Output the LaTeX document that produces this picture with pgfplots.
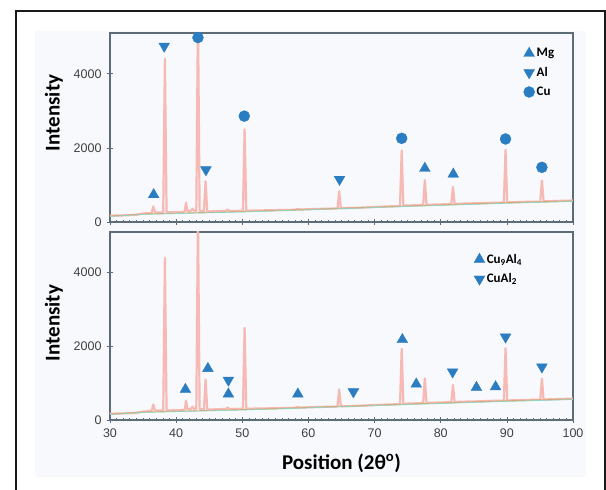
\documentclass[border=0pt]{standalone}
\usepackage{fontspec}
\setmainfont{Carlito}
\newfontfamily\tickfont{Liberation Sans}
\usepackage{pgfplots}
\usepackage{pgfplotstable}
\pgfplotsset{compat=1.18}

\definecolor{peakpink}{HTML}{F6B9B3}
\definecolor{baseorange}{HTML}{E6A066}
\definecolor{baseteal}{HTML}{86D8C6}
\definecolor{markblue}{HTML}{2B7DC1}
\definecolor{axisgray}{HTML}{5E6C78}
\definecolor{tickblue}{HTML}{4D6C8E}
\definecolor{panelbg}{HTML}{F8F9FC}

% diffraction pattern (2theta, counts)
\pgfplotstableread{
x y
30 170
31 175
32 178
33 185
34 195
35 230
36 240
36.3 250
36.55 420
36.8 260
37.5 255
38.05 260
38.3 4400
38.55 270
39 260
40 265
41 270
41.3 290
41.5 520
41.7 290
42.2 300
42.5 360
42.7 300
43.05 300
43.3 5600
43.55 300
44.2 290
44.45 1100
44.7 290
45 285
46 290
47.5 300
47.8 340
48 300
49 300
50.1 305
50.35 2500
50.6 305
52 310
55 320
58 330
58.4 355
58.7 335
60 345
62 355
64.4 365
64.65 830
64.9 370
66 375
67 380
70 405
72 420
73.85 430
74.1 1930
74.35 440
75 445
77.35 460
77.6 1130
77.85 465
80 475
81.6 485
81.85 950
82.1 490
84 500
85.3 505
86 510
88 520
89.55 525
89.8 1950
90.05 530
92 540
93 545
95.05 550
95.3 1120
95.55 555
97 565
100 580
}\xrdscan

\pgfplotstableread{
x y
30 160
35 215
50 280
70 400
90 520
100 570
}\bgorange

\pgfplotstableread{
x y
30 150
35 205
50 270
70 390
90 505
100 555
}\bgteal

\pgfplotsset{
  xrdaxis/.style={
    scale only axis,
    width=463pt,
    xmin=30, xmax=100,
    ymin=0, ymax=5100,
    xtick={30,40,...,100},
    minor x tick num=9,
    ytick={0,2000,4000},
    tick pos=left,
    tick align=center,
    major tick length=6pt,
    minor tick length=3pt,
    axis line style={draw=axisgray, line width=1.1pt},
    every tick/.style={tickblue, line width=0.7pt},
    tick label style={font=\tickfont\fontsize{12.5}{12.5}\selectfont, text=black!75},
    yticklabel style={xshift=-2pt},
    xticklabel style={yshift=-2pt},
    /pgf/number format/assume math mode=true,
    scaled y ticks=false,
    y tick label style={/pgf/number format/1000 sep={}},
    ylabel={\bfseries Intensity},
    ylabel style={font=\fontsize{21}{21}\selectfont, anchor=center},
    legend style={draw=none, fill=none, inner sep=0pt, row sep=5pt,
      font=\bfseries\fontsize{13}{13}\selectfont, cells={anchor=west}},
    legend image code/.code={\draw[##1] plot coordinates {(0.1cm,0cm)};},
    clip=true,
  },
  upmark/.style={only marks, mark=triangle*, mark size=6.2pt,
    color=markblue, fill=markblue},
  downmark/.style={only marks, mark=triangle*, mark size=6.2pt,
    mark options={rotate=180}, color=markblue, fill=markblue},
  cumark/.style={only marks, mark=*, mark size=5.5pt,
    color=markblue, fill=markblue},
}

\begin{document}
\begin{tikzpicture}[x=1pt,y=1pt]
\path[use as bounding box] (0,0) rectangle (606,490);
\fill[panelbg] (35,13) rectangle (586,459);
\draw[black!90, line width=2.2pt] (16,0) -- (16,479) -- (605,479) -- (605,0);

% top panel: Mg, Al, Cu
\begin{axis}[xrdaxis,
    at={(110pt,268pt)}, anchor=south west,
    height=189pt,
    xticklabels={},
    ylabel style={at={(axis description cs:-0.121,0.577)}},
    legend style={at={(axis description cs:0.893,0.93)}, anchor=north west},
]
\addplot[peakpink, line width=2.2pt, line join=round, forget plot] table {\xrdscan};
\addplot[baseorange, line width=0.9pt, forget plot] table {\bgorange};
\addplot[baseteal, line width=0.7pt, forget plot] table {\bgteal};
\addplot[upmark] coordinates {(36.6,737) (77.6,1447) (81.9,1290)};
\addlegendentry{Mg}
\addplot[downmark] coordinates {(38.2,4746) (44.5,1410) (64.7,1152)};
\addlegendentry{Al}
\addplot[cumark] coordinates {(43.3,4977) (50.3,2857) (74.1,2258) (89.8,2240) (95.3,1475)};
\addlegendentry{Cu}
\end{axis}

% bottom panel: Cu9Al4, CuAl2
\begin{axis}[xrdaxis,
    at={(110pt,70pt)}, anchor=south west,
    height=188pt,
    xlabel={\bfseries Position (2θ\textsuperscript{o})},
    xlabel style={font=\fontsize{21}{21}\selectfont, anchor=center,
      at={(axis description cs:0.5,-0.229)}},
    ylabel style={at={(axis description cs:-0.121,0.516)}},
    legend style={at={(axis description cs:0.786,0.894)}, anchor=north west},
]
\addplot[peakpink, line width=2.2pt, line join=round, forget plot] table {\xrdscan};
\addplot[baseorange, line width=0.9pt, forget plot] table {\bgorange};
\addplot[baseteal, line width=0.7pt, forget plot] table {\bgteal};
\addplot[upmark] coordinates {(41.4,829) (44.8,1396) (47.9,703) (58.4,703)
  (74.2,2180) (76.3,973) (85.4,883) (88.3,900)};
\addlegendentry{Cu\textsubscript{9}Al\textsubscript{4}}
\addplot[downmark] coordinates {(47.9,1081) (66.8,766) (81.8,1306) (89.8,2252) (95.3,1441)};
\addlegendentry{CuAl\textsubscript{2}}
\end{axis}
\end{tikzpicture}
\end{document}
